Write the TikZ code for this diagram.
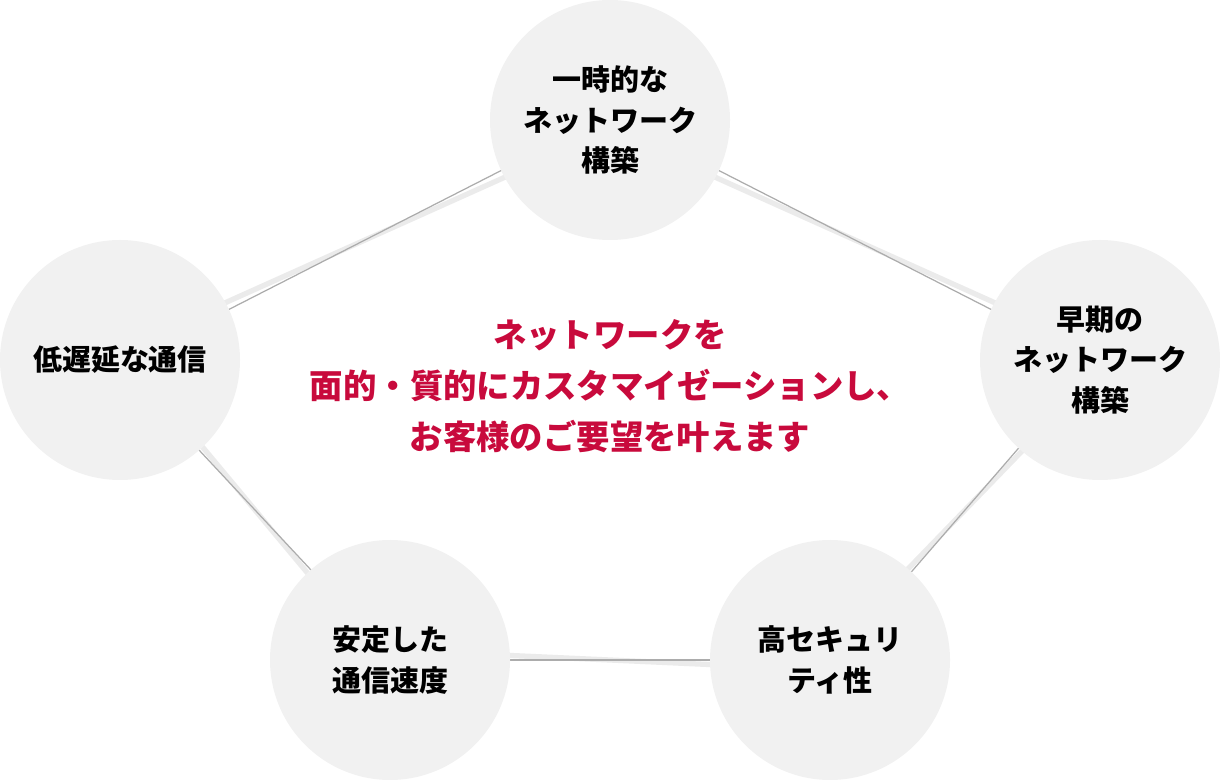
\documentclass[tikz,border=0pt]{standalone}
\usepackage{fontspec}
\newfontfamily\cjk{Noto Sans CJK JP}
\usetikzlibrary{calc}
\definecolor{circfill}{RGB}{241,241,241}
\definecolor{msgred}{RGB}{200,10,60}
\tikzset{
  topic/.style={circle, fill=circfill, minimum size=4.8cm, align=center,
    font=\cjk\bfseries\fontsize{16.5}{23}\selectfont, text=black},
  darkline/.style={draw=gray!65, line width=0.7pt},
  softline/.style={draw=gray!16, line width=3pt}
}
\begin{document}
\begin{tikzpicture}[line join = round, line cap = round]
\useasboundingbox (0,0) rectangle (24.4,15.62);

% circle centres
\coordinate (T) at (12.2,13.22);
\coordinate (L) at (2.4,8.42);
\coordinate (R) at (22.0,8.42);
\coordinate (BL) at (7.8,2.42);
\coordinate (BR) at (16.6,2.42);

% connectors, two lines per pair
\draw[softline] ($(T)+(0,-0.2)$) -- ($(L)+(0,0.2)$);
\draw[darkline] ($(T)+(0,0.1)$) -- ($(L)+(0,-0.1)$);
\draw[softline] ($(T)+(0,-0.2)$) -- ($(R)+(0,0.2)$);
\draw[darkline] ($(T)+(0,0.1)$) -- ($(R)+(0,-0.1)$);
\draw[softline] ($(L)+(0.2,0)$) -- ($(BL)+(-0.2,0)$);
\draw[darkline] ($(L)+(-0.1,0)$) -- ($(BL)+(0.1,0)$);
\draw[softline] ($(R)+(0.2,0)$) -- ($(BR)+(-0.2,0)$);
\draw[darkline] ($(R)+(-0.1,0)$) -- ($(BR)+(0.1,0)$);
\draw[softline] ($(BL)+(0,0.2)$) -- ($(BR)+(0,-0.2)$);
\draw[darkline] (BL) -- (BR);

% topics
\node[topic] (top) at (T) {一時的な\\ネットワーク\\構築};
\node[topic] (left) at (L) {低遅延な通信};
\node[topic] (right) at (R) {早期の\\ネットワーク\\構築};
\node[topic] (botleft) at (BL) {安定した\\通信速度};
\node[topic] (botright) at (BR) {高セキュリ\\ティ性};

% message
\node[align=center, text=msgred, font=\cjk\bfseries\fontsize{19}{29}\selectfont] (msg) at (12.2,7.9)
  {ネットワークを\\面的・質的にカスタマイゼーションし、\\お客様のご要望を叶えます};

\end{tikzpicture}
\end{document}
